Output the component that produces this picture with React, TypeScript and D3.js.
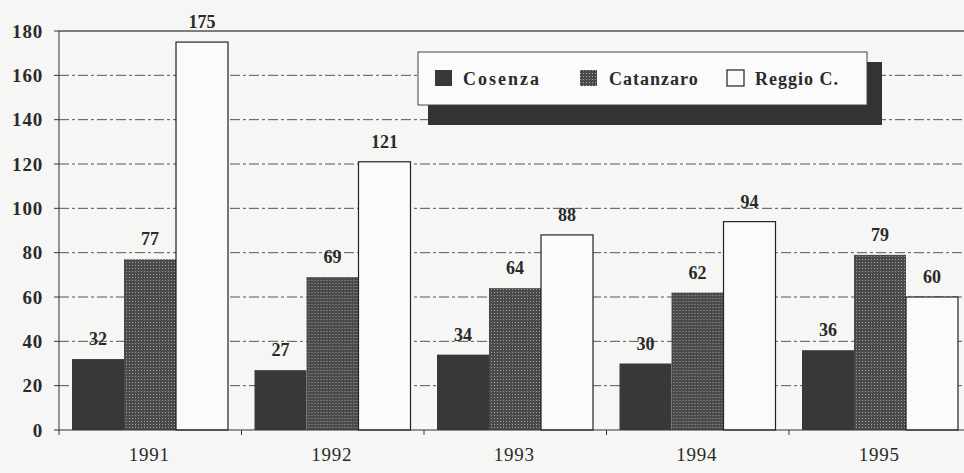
import React from "react";
import * as d3 from "d3";

const years = ["1991", "1992", "1993", "1994", "1995"];
const seriesNames = ["Cosenza", "Catanzaro", "Reggio C."];
const cosenza = [32, 27, 34, 30, 36];
const catanzaro = [77, 69, 64, 62, 79];
const reggio = [175, 121, 88, 94, 60];
const yTicks = [0, 20, 40, 60, 80, 100, 120, 140, 160, 180];

const W = 964;
const H = 473;
const FONT = "'Liberation Serif', 'DejaVu Serif', serif";

export default function App() {
  const values = [cosenza, catanzaro, reggio];
  const x = d3.scaleBand<string>().domain(years).range([59, 971.5]).padding(0);
  const inner = d3.scaleBand<string>().domain(seriesNames).range([13, 169]).padding(0);
  const y = d3.scaleLinear().domain([0, 180]).range([430, 31]);

  const fills = ["#383838", "url(#dots)", "#fbfbfb"];

  return (
    <svg width={W} height={H} style={{ position: "absolute", left: 0, top: 0, background: "#f6f6f4" }}>
      <defs>
        <pattern id="dots" width={3} height={3} patternUnits="userSpaceOnUse">
          <rect width={3} height={3} fill="#4a4a4a" />
          <rect x={1} y={1} width={1} height={1} fill="#a0a0a0" />
        </pattern>
      </defs>
      <rect width={W} height={H} fill="#f6f6f4" />
      {yTicks.filter(t => t > 0).map(t => (
        <line key={"g" + t} x1={59} x2={W} y1={y(t)} y2={y(t)} stroke="#555"
          strokeWidth={t === 180 ? 1.3 : 1}
          strokeDasharray={t === 180 ? undefined : "10,3,3,3"} />
      ))}
      <line x1={59} x2={59} y1={y(180)} y2={y(0)} stroke="#333" strokeWidth={1} />
      {yTicks.map(t => (
        <g key={"t" + t}>
          <line x1={54} x2={59} y1={y(t)} y2={y(t)} stroke="#333" />
          <text x={43} y={y(t)} dy="0.35em" textAnchor="end" fontFamily={FONT} fontWeight="bold" fontSize={19} letterSpacing={0.8} fill="#2a2a2a">{t}</text>
        </g>
      ))}
      {years.map((yr, i) => (
        <g key={yr} transform={`translate(${x(yr)},0)`}>
          {seriesNames.map((s, j) => {
            const v = values[j][i];
            const bx = inner(s)!;
            const bw = inner.bandwidth();
            return (
              <g key={s}>
                <rect x={bx} y={y(v)} width={bw} height={y(0) - y(v)} fill={fills[j]}
                  stroke={j === 2 ? "#222" : "none"} strokeWidth={1.2} />
                <text x={bx + bw / 2} y={y(v) - 14} textAnchor="middle" fontFamily={FONT} fontWeight="bold" fontSize={18} fill="#2a2a2a">{v}</text>
              </g>
            );
          })}
        </g>
      ))}
      <line x1={59} x2={W} y1={y(0)} y2={y(0)} stroke="#333" strokeWidth={1.2} />
      {years.map(yr => (
        <g key={"x" + yr}>
          <line x1={x(yr)!} x2={x(yr)!} y1={y(0)} y2={y(0) + 5} stroke="#333" />
          <text x={x(yr)! + x.bandwidth() / 2 - 1} y={461} textAnchor="middle" fontFamily={FONT} fontSize={19} letterSpacing={0.8} fill="#2a2a2a">{yr}</text>
        </g>
      ))}
      <rect x={428} y={62} width={454} height={63} fill="#333" />
      <rect x={418} y={52} width={449} height={53} fill="#fbfbfb" stroke="#444" strokeWidth={1} />
      {seriesNames.map((s, j) => {
        const lx = [435, 580, 727][j];
        const tx = [463, 609, 755][j];
        return (
          <g key={"l" + s}>
            <rect x={lx} y={70} width={17} height={16} fill={fills[j]} stroke={j === 2 ? "#222" : "none"} strokeWidth={1.2} />
            <text x={tx} y={85} fontFamily={FONT} fontWeight="bold" fontSize={18} letterSpacing={j === 0 ? 2 : 1} fill="#2a2a2a">{s}</text>
          </g>
        );
      })}
    </svg>
  );
}
